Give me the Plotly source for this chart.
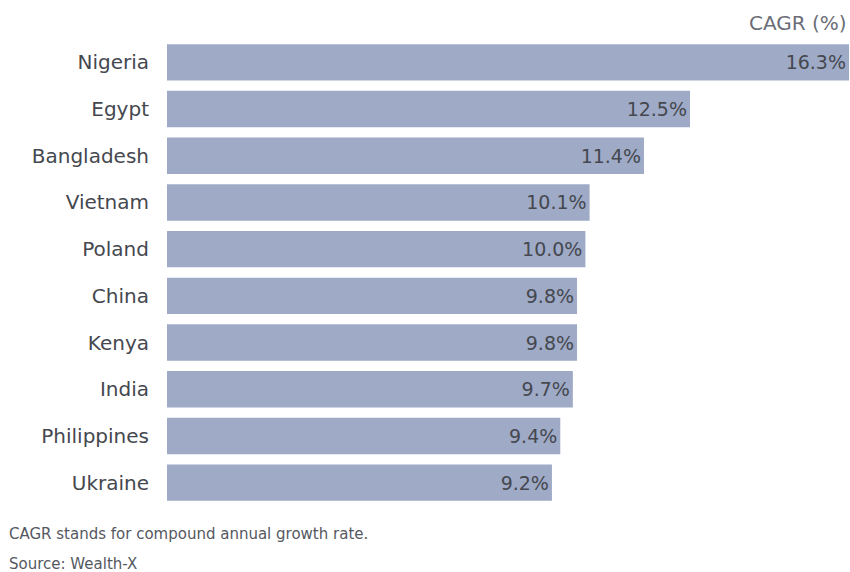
import plotly.graph_objects as go

countries = ["Nigeria", "Egypt", "Bangladesh", "Vietnam", "Poland",
             "China", "Kenya", "India", "Philippines", "Ukraine"]
cagr = [16.3, 12.5, 11.4, 10.1, 10.0, 9.8, 9.8, 9.7, 9.4, 9.2]

FONT = "DejaVu Sans, Verdana, sans-serif"
BAR = "#9eaac6"
TEXT = "#45484f"
NOTE = "#55585f"

fig = go.Figure(
    go.Bar(
        x=cagr,
        y=countries,
        orientation="h",
        marker=dict(color=BAR, line=dict(width=0)),
        text=[f"{v:.1f}%" for v in cagr],
        textposition="inside",
        insidetextanchor="end",
        textfont=dict(family=FONT, size=19, color=TEXT),
        hoverinfo="skip",
    )
)

fig.update_layout(
    width=850,
    height=572,
    margin=dict(l=167, r=1, t=39, b=66),
    paper_bgcolor="white",
    plot_bgcolor="white",
    bargap=0.22,
    showlegend=False,
    font=dict(family=FONT, color=TEXT),
    xaxis=dict(range=[0, 16.3], visible=False, fixedrange=True),
    yaxis=dict(
        autorange="reversed",
        showgrid=False,
        zeroline=False,
        showline=False,
        ticks="",
        ticklabelstandoff=17,
        tickfont=dict(family=FONT, size=20, color=TEXT),
        fixedrange=True,
    ),
    annotations=[
        dict(text="CAGR (%)", xref="paper", yref="paper", x=1, y=1,
             xanchor="right", yanchor="bottom", yshift=2, showarrow=False,
             font=dict(family=FONT, size=20, color="#6b6e76")),
        dict(text="CAGR stands for compound annual growth rate.",
             xref="paper", yref="paper", x=0, y=0, xshift=-160, yshift=-28,
             xanchor="left", yanchor="middle", showarrow=False,
             font=dict(family=FONT, size=15, color=NOTE)),
        dict(text="Source: Wealth-X",
             xref="paper", yref="paper", x=0, y=0, xshift=-160, yshift=-58,
             xanchor="left", yanchor="middle", showarrow=False,
             font=dict(family=FONT, size=15, color=NOTE)),
    ],
)

fig.write_html("out.html")
